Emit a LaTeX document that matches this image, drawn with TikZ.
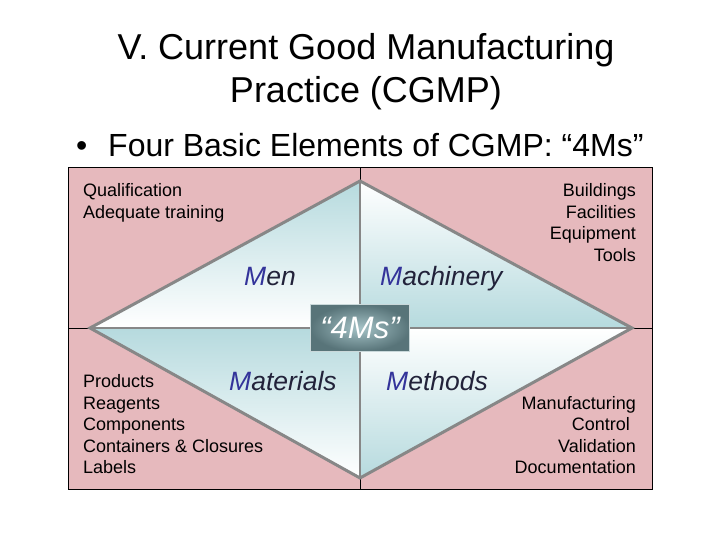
\documentclass[tikz,border=0pt]{standalone}
\usepackage{fontspec}
\setmainfont{Liberation Sans}
\usetikzlibrary{shadings}
\definecolor{pinkbg}{HTML}{E6B9BD}
\definecolor{lblue}{HTML}{B6DADE}
\definecolor{dgray}{HTML}{878787}
\definecolor{mblue}{HTML}{33339A}
\definecolor{mdark}{HTML}{22223A}
\definecolor{boxin}{HTML}{A4C2C6}
\definecolor{boxout}{HTML}{587479}
\definecolor{boxedge}{HTML}{C9D8DA}
\newcommand{\titlefont}{\fontsize{36bp}{40bp}\selectfont}
\newcommand{\bulletfont}{\fontsize{32bp}{36bp}\selectfont}
\newcommand{\smallfont}{\fontsize{18bp}{21.5bp}\selectfont}
\newcommand{\mfont}{\fontsize{26.5bp}{30bp}\selectfont\itshape}
\begin{document}
\begin{tikzpicture}[x=1bp,y=-1bp,
  txt/.style={inner sep=0pt, font=\smallfont},
  lefttxt/.style={txt, anchor=base west},
  righttxt/.style={txt, anchor=base east},
  mlabel/.style={inner sep=0pt, anchor=base west, font=\mfont, text=mdark},
  crossline/.style={draw=black, line width=1bp},
  innercross/.style={draw=dgray, line width=1.8bp},
  diamondedge/.style={draw=dgray, line width=3bp},
  centerbox/.style={draw=boxedge, line width=1.2bp, inner color=boxin, outer color=boxout,
     minimum width=99bp, minimum height=47bp, inner sep=0pt, text=white, font=\fontsize{31bp}{34bp}\selectfont\itshape}]
\useasboundingbox (0,0) rectangle (720,540);
\fill[white] (0,0) rectangle (720,540);

% title
\node[anchor=base, inner sep=0pt, font=\titlefont] (t1) at (366,60) {V. Current Good Manufacturing};
\node[anchor=base, inner sep=0pt, font=\titlefont] (t2) at (366,103) {Practice (CGMP)};
\node[anchor=base west, inner sep=0pt, font=\bulletfont] (bul) at (76,157) {•};
\node[anchor=base west, inner sep=0pt, font=\bulletfont] (sub) at (108,157) {Four Basic Elements of CGMP: “4Ms”};

% coordinates
\coordinate (BTL) at (68,168);
\coordinate (BBR) at (652,489);
\coordinate (ML) at (68,328);
\coordinate (MR) at (652,328);
\coordinate (MT) at (360,168);
\coordinate (MB) at (360,489);
\coordinate (L) at (90,328);
\coordinate (R) at (632,328);
\coordinate (T) at (360,181);
\coordinate (B) at (360,478);
\coordinate (C) at (360,328);

% background box
\fill[pinkbg] (BTL) rectangle (BBR);
\draw[crossline] (ML) -- (MR);
\draw[crossline] (MT) -- (MB);
\draw[crossline] (BTL) rectangle (BBR);

% diamond quadrants
\shade[top color=lblue, bottom color=white] (L) -- (T) -- (C) -- cycle;
\shade[top color=white, bottom color=lblue] (T) -- (R) -- (C) -- cycle;
\shade[top color=lblue, bottom color=white] (L) -- (C) -- (B) -- cycle;
\shade[top color=white, bottom color=lblue] (C) -- (R) -- (B) -- cycle;
\draw[innercross] (L) -- (R);
\draw[innercross] (T) -- (B);
\draw[diamondedge] (L) -- (T) -- (R) -- (B) -- cycle;

% quadrant labels
\node[mlabel] (men) at (244,286) {\textcolor{mblue}{M}en};
\node[mlabel] (mach) at (380,286) {\textcolor{mblue}{M}achinery};
\node[mlabel] (mat) at (229,390) {\textcolor{mblue}{M}aterials};
\node[mlabel] (meth) at (386,390) {\textcolor{mblue}{M}ethods};

% center box
\node[centerbox] (four) at (C) {“4Ms”};

% corner texts
\node[lefttxt] (q1) at (83,197) {Qualification};
\node[lefttxt] (q2) at (83,219) {Adequate training};

\node[righttxt] (b1) at (636,197) {Buildings};
\node[righttxt] (b2) at (636,218.5) {Facilities};
\node[righttxt] (b3) at (636,240) {Equipment};
\node[righttxt] (b4) at (636,261.5) {Tools};

\node[lefttxt] (p1) at (83,387) {Products};
\node[lefttxt] (p2) at (83,409) {Reagents};
\node[lefttxt] (p3) at (83,430) {Components};
\node[lefttxt] (p4) at (83,452) {Containers \& Closures};
\node[lefttxt] (p5) at (83,473) {Labels};

\node[righttxt] (m1) at (636,409) {Manufacturing};
\node[righttxt] (m2) at (630,430) {Control};
\node[righttxt] (m3) at (636,452) {Validation};
\node[righttxt] (m4) at (636,473) {Documentation};
\end{tikzpicture}
\end{document}
